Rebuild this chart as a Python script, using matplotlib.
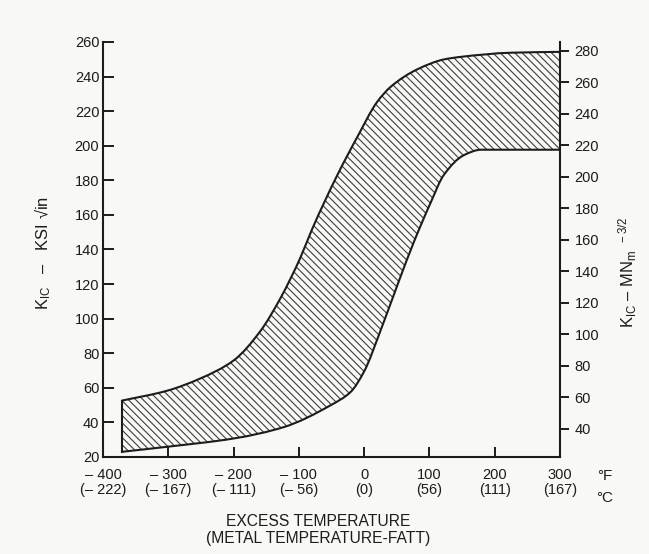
import numpy as np
import matplotlib
matplotlib.use('Agg')
import matplotlib.pyplot as plt
from matplotlib.path import Path
from matplotlib.patches import PathPatch

plt.rcParams['font.family'] = ['Liberation Sans', 'DejaVu Sans']
plt.rcParams['mathtext.fontset'] = 'custom'
plt.rcParams['mathtext.rm'] = 'Liberation Sans'
plt.rcParams['mathtext.it'] = 'Liberation Sans:italic'
plt.rcParams['hatch.linewidth'] = 0.9

# K_IC scatter band vs excess temperature (degF), toughness in ksi sqrt(in)
upper_temp = [-371, -302, -251, -200, -159, -128, -98, -80, -41, -10, 20, 41, 82, 122, 148, 225, 300]
upper_kic = [52.6, 58.3, 65.4, 75.8, 92.8, 112.0, 135.0, 151.5, 183.1, 205.4, 225.4, 234.2, 244.3, 249.9, 251.4, 253.8, 254.3]

lower_temp = [-371, -302, -200, -123, -51, -21, 0, 25, 51, 76, 102, 122, 153, 179, 300]
lower_kic = [23.0, 25.9, 30.7, 37.3, 50.0, 57.5, 69.5, 93.0, 119.5, 144.2, 167.2, 183.1, 194.6, 197.7, 197.7]

temp_f = [-400, -300, -200, -100, 0, 100, 200, 300]
temp_c = [-222, -167, -111, -56, 0, 56, 111, 167]
ksi_ticks = list(range(20, 261, 20))
mpa_ticks = list(range(40, 281, 20))
KSI_TO_MPA = 1.0988

bg = '#f8f8f6'
ink = '#1c1c1c'


def neg(v):
    return '\u2013 %d' % abs(v) if v < 0 else '%d' % v


def smooth_verts(xs, ys):
    # monotone cubic (pchip style) through the points, as bezier vertices
    x = np.asarray(xs, float)
    y = np.asarray(ys, float)
    h = np.diff(x)
    d = np.diff(y) / h
    m = np.zeros_like(y)
    m[0], m[-1] = d[0], d[-1]
    for k in range(1, len(x) - 1):
        if d[k - 1] * d[k] > 0:
            w1 = 2 * h[k] + h[k - 1]
            w2 = h[k] + 2 * h[k - 1]
            m[k] = (w1 + w2) / (w1 / d[k - 1] + w2 / d[k])
    verts = [(x[0], y[0])]
    for k in range(len(x) - 1):
        verts.append((x[k] + h[k] / 3, y[k] + m[k] * h[k] / 3))
        verts.append((x[k + 1] - h[k] / 3, y[k + 1] - m[k + 1] * h[k] / 3))
        verts.append((x[k + 1], y[k + 1]))
    return verts


up = smooth_verts(upper_temp, upper_kic)
lo = smooth_verts(lower_temp, lower_kic)
curve_codes = lambda v: [Path.MOVETO] + [Path.CURVE4] * (len(v) - 1)

fig = plt.figure(figsize=(649 / 88, 554 / 88), dpi=88, facecolor=bg)
ax = fig.add_axes([0.1587, 0.1751, 0.7042, 0.7491])
ax.set_facecolor(bg)

# hatched band between the two bounds
band_verts = up + [lo[-1]] + lo[::-1][1:] + [up[0]]
band_codes = curve_codes(up) + [Path.LINETO] + [Path.CURVE4] * (len(lo) - 1) + [Path.CLOSEPOLY]
ax.add_patch(PathPatch(Path(band_verts, band_codes), facecolor='none',
                       edgecolor='#3c3c3c', hatch='\\\\\\\\', linewidth=0))
for v in (up, lo):
    ax.add_patch(PathPatch(Path(v, curve_codes(v)), facecolor='none',
                           edgecolor=ink, lw=1.7, capstyle='round'))
ax.plot([upper_temp[0], lower_temp[0]], [upper_kic[0], lower_kic[0]], color=ink, lw=1.7)

ax.set_xlim(-400, 300)
ax.set_ylim(20, 260)
ax.set_xticks(temp_f)
ax.set_xticklabels([neg(f) + '\n(' + neg(c) + ')' for f, c in zip(temp_f, temp_c)])
ax.set_yticks(ksi_ticks)
ax.tick_params(axis='x', direction='in', length=8, width=1.6, pad=9,
               labelsize=12, colors=ink)
ax.tick_params(axis='y', direction='in', length=9, width=1.6, pad=3,
               labelsize=12, colors=ink)
for lab in ax.get_xticklabels():
    lab.set_linespacing(1.1)
ax.spines['top'].set_visible(False)
ax.spines['right'].set_visible(False)
for s in ['left', 'bottom']:
    ax.spines[s].set_linewidth(1.7)
    ax.spines[s].set_color(ink)

# metric scale on the right
ax2 = ax.twinx()
ax2.set_ylim(20 * KSI_TO_MPA, 260 * KSI_TO_MPA)
ax2.set_yticks(mpa_ticks)
ax2.tick_params(axis='y', direction='out', length=7, width=1.6, pad=5,
                labelsize=12, colors=ink)
for s in ['top', 'left', 'bottom']:
    ax2.spines[s].set_visible(False)
ax2.spines['right'].set_linewidth(1.7)
ax2.spines['right'].set_color(ink)

# axis titles
fig.text(43 / 649, 1 - 253 / 554, 'K$_{\\mathrm{IC}}$   \u2013   KSI \u221ain', rotation=90,
         ha='center', va='center', fontsize=13.5, color=ink)
fig.text(628 / 649, 1 - 272 / 554, 'K$_{\\mathrm{IC}}$ \u2013 MN$_{\\mathrm{m}}$ $^{\\,-3/2}$',
         rotation=90, ha='center', va='center', fontsize=13.5, color=ink)
fig.text(605 / 649, 1 - 476 / 554, '\u00b0F', ha='center', va='center', fontsize=12.5, color=ink)
fig.text(605 / 649, 1 - 498 / 554, '\u00b0C', ha='center', va='center', fontsize=12.5, color=ink)
fig.text(318 / 649, 1 - 530 / 554, 'EXCESS TEMPERATURE\n(METAL TEMPERATURE-FATT)',
         ha='center', va='center', fontsize=12.8, color=ink, linespacing=1.1)

fig.savefig('out.png', dpi=88, facecolor=bg)
